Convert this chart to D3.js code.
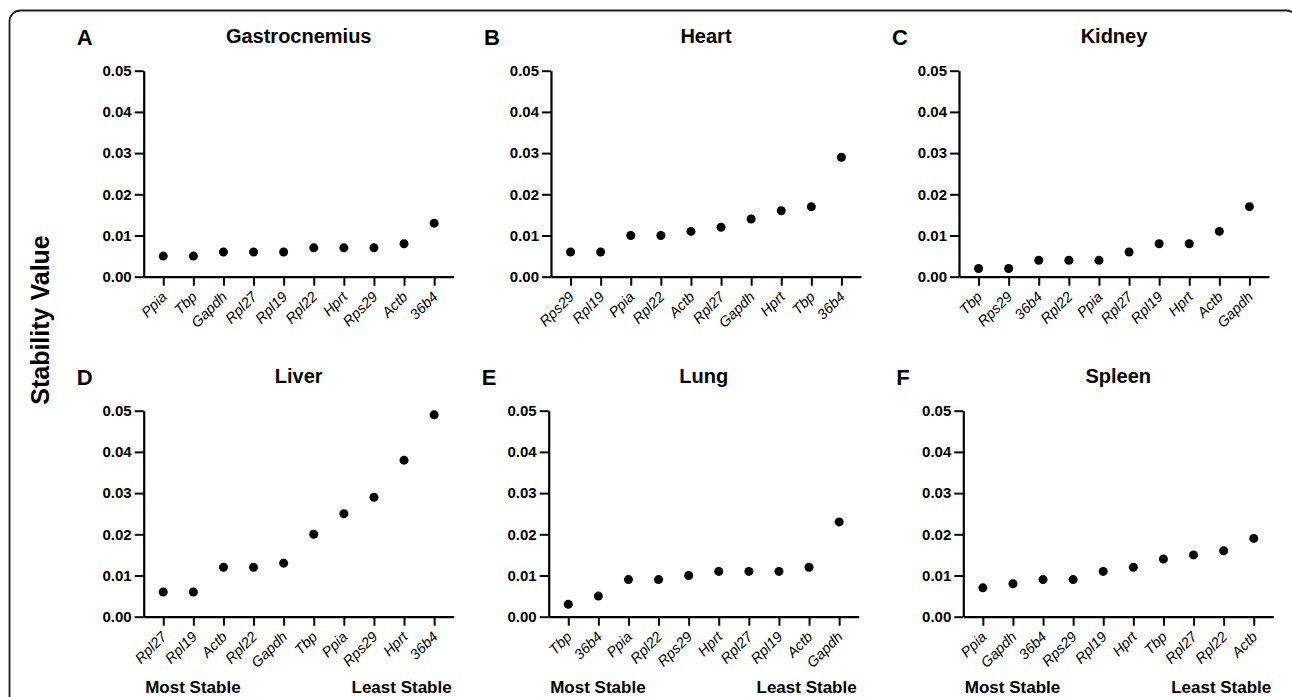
<!DOCTYPE html>
<html>
<head>
<meta charset="utf-8">
<script src="https://cdn.jsdelivr.net/npm/d3@7/dist/d3.min.js"></script>
<style>
  html, body { margin: 0; padding: 0; background: #fff; }
  svg { display: block; font-family: "Liberation Sans", Arial, sans-serif; }
</style>
</head>
<body>
<svg id="chart" width="1292" height="697"></svg>
<script>
// ---- Data ----
const tissues = ["Gastrocnemius", "Heart", "Kidney", "Liver", "Lung", "Spleen"];
const panelLetters = ["A", "B", "C", "D", "E", "F"];

const gastrocnemiusGenes = ["Ppia", "Tbp", "Gapdh", "Rpl27", "Rpl19", "Rpl22", "Hprt", "Rps29", "Actb", "36b4"];
const gastrocnemiusValues = [0.005, 0.005, 0.006, 0.006, 0.006, 0.007, 0.007, 0.007, 0.008, 0.013];

const heartGenes = ["Rps29", "Rpl19", "Ppia", "Rpl22", "Actb", "Rpl27", "Gapdh", "Hprt", "Tbp", "36b4"];
const heartValues = [0.006, 0.006, 0.010, 0.010, 0.011, 0.012, 0.014, 0.016, 0.017, 0.029];

const kidneyGenes = ["Tbp", "Rps29", "36b4", "Rpl22", "Ppia", "Rpl27", "Rpl19", "Hprt", "Actb", "Gapdh"];
const kidneyValues = [0.002, 0.002, 0.004, 0.004, 0.004, 0.006, 0.008, 0.008, 0.011, 0.017];

const liverGenes = ["Rpl27", "Rpl19", "Actb", "Rpl22", "Gapdh", "Tbp", "Ppia", "Rps29", "Hprt", "36b4"];
const liverValues = [0.006, 0.006, 0.012, 0.012, 0.013, 0.020, 0.025, 0.029, 0.038, 0.049];

const lungGenes = ["Tbp", "36b4", "Ppia", "Rpl22", "Rps29", "Hprt", "Rpl27", "Rpl19", "Actb", "Gapdh"];
const lungValues = [0.003, 0.005, 0.009, 0.009, 0.010, 0.011, 0.011, 0.011, 0.012, 0.023];

const spleenGenes = ["Ppia", "Gapdh", "36b4", "Rps29", "Rpl19", "Hprt", "Tbp", "Rpl27", "Rpl22", "Actb"];
const spleenValues = [0.007, 0.008, 0.009, 0.009, 0.011, 0.012, 0.014, 0.015, 0.016, 0.019];

const yTicks = [0, 0.01, 0.02, 0.03, 0.04, 0.05];
const yDomain = [0, 0.05];
const yAxisTitle = "Stability Value";
const bottomLabels = ["Most Stable", "Least Stable"];

const panelGenes = [gastrocnemiusGenes, heartGenes, kidneyGenes, liverGenes, lungGenes, spleenGenes];
const panelValues = [gastrocnemiusValues, heartValues, kidneyValues, liverValues, lungValues, spleenValues];

// ---- Layout ----
const panelAxisX = [143.7, 551, 959, 143.7, 548.7, 963.3];
const axisWidth = 310;
const rowBottom = [276.7, 616.7];
const plotHeight = 206;

const svg = d3.select("#chart");

// outer rounded frame
svg.append("rect")
  .attr("x", 9.5).attr("y", 10.5)
  .attr("width", 1288).attr("height", 720)
  .attr("rx", 11).attr("ry", 11)
  .attr("fill", "none")
  .attr("stroke", "#1e1e1e")
  .attr("stroke-width", 1.8);

// y-axis title
svg.append("text")
  .attr("transform", "translate(49," + 320 + ") rotate(-90)")
  .attr("text-anchor", "middle")
  .attr("font-size", 25)
  .attr("font-weight", "bold")
  .attr("fill", "#000")
  .text(yAxisTitle);

tissues.forEach((tissue, i) => {
  const row = Math.floor(i / 3);
  const x0 = panelAxisX[i];
  const y0 = rowBottom[row];
  const genes = panelGenes[i];
  const vals = panelValues[i];

  const x = d3.scalePoint().domain(genes).range([x0, x0 + axisWidth]).padding(0.65);
  const y = d3.scaleLinear().domain(yDomain).range([y0, y0 - plotHeight]);

  const g = svg.append("g");

  // y axis
  const yAxis = d3.axisLeft(y).tickValues(yTicks).tickFormat(d3.format(".2f"))
    .tickSize(9).tickSizeOuter(0).tickPadding(3);
  const yg = g.append("g").attr("transform", "translate(" + x0 + ",0)").call(yAxis);
  yg.select(".domain").attr("stroke", "#000").attr("stroke-width", 2.2);
  yg.selectAll(".tick line").attr("stroke", "#000").attr("stroke-width", 2);
  yg.selectAll(".tick text")
    .attr("font-size", 15).attr("font-weight", "bold").attr("fill", "#000")
    .attr("font-family", "'Liberation Sans', Arial, sans-serif");

  // x axis
  const xAxis = d3.axisBottom(x).tickSize(9).tickSizeOuter(0).tickFormat("");
  const xg = g.append("g").attr("transform", "translate(0," + y0 + ")").call(xAxis);
  xg.select(".domain").attr("stroke", "#000").attr("stroke-width", 2.2);
  xg.selectAll(".tick line").attr("stroke", "#000").attr("stroke-width", 2);

  // rotated italic category labels
  g.selectAll("text.cat").data(genes).enter().append("text")
    .attr("class", "cat")
    .attr("transform", d => "translate(" + (x(d) + 4.5) + "," + (y0 + 21) + ") rotate(-45)")
    .attr("text-anchor", "end")
    .attr("font-size", 14.5)
    .attr("font-style", "italic")
    .attr("fill", "#000")
    .text(d => d);

  // points
  g.selectAll("circle").data(genes).enter().append("circle")
    .attr("cx", d => x(d))
    .attr("cy", (d, j) => y(vals[j]))
    .attr("r", 4.5)
    .attr("fill", "#000");

  // title
  g.append("text")
    .attr("x", x0 + axisWidth / 2)
    .attr("y", y0 - 233.5)
    .attr("text-anchor", "middle")
    .attr("font-size", 20)
    .attr("font-weight", "bold")
    .attr("fill", "#000")
    .text(tissue);

  // panel letter
  g.append("text")
    .attr("x", x0 - 67)
    .attr("y", y0 - 232)
    .attr("font-size", 22)
    .attr("font-weight", "bold")
    .attr("fill", "#000")
    .text(panelLetters[i]);

  // bottom labels for lower row
  if (row === 1) {
    g.append("text")
      .attr("x", x0 + 1.5)
      .attr("y", 692.5)
      .attr("font-size", 17)
      .attr("font-weight", "bold")
      .attr("fill", "#000")
      .text(bottomLabels[0]);
    g.append("text")
      .attr("x", x0 + axisWidth - 2)
      .attr("y", 692.5)
      .attr("text-anchor", "end")
      .attr("font-size", 17)
      .attr("font-weight", "bold")
      .attr("fill", "#000")
      .text(bottomLabels[1]);
  }
});
</script>
</body>
</html>
